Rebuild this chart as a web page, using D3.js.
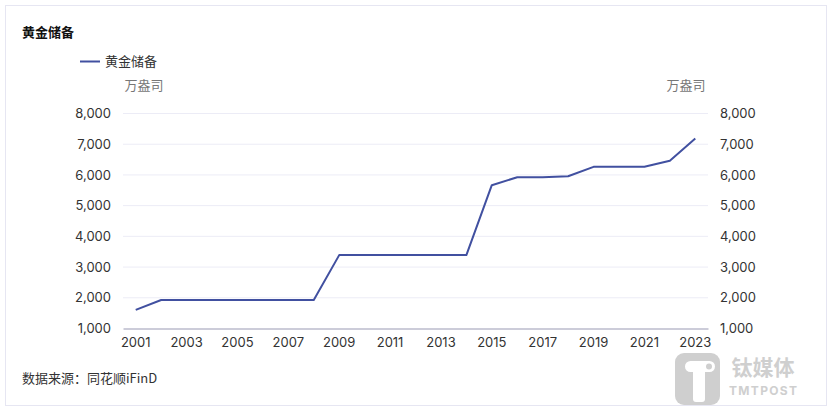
<!DOCTYPE html>
<html><head><meta charset="utf-8">
<script src="https://cdn.jsdelivr.net/npm/d3@7"></script>
<style>
html,body{margin:0;padding:0;background:#fff;}
svg{display:block;font-family:"Noto Sans CJK SC","Inter",sans-serif;}
</style></head>
<body>
<svg id="c" width="832" height="412"></svg>
<script>
const years = ["2001","2002","2003","2004","2005","2006","2007","2008","2009","2010","2011","2012","2013","2014","2015","2016","2017","2018","2019","2020","2021","2022","2023"];
const goldReserve = [1608,1929,1929,1929,1929,1929,1929,1929,3389,3389,3389,3389,3389,3389,5666,5924,5924,5956,6264,6264,6264,6464,7187];
const yTicks = [1000,2000,3000,4000,5000,6000,7000,8000];
const seriesName = "黄金储备";
const unitLabel = "万盎司";
const titleText = "黄金储备";
const sourceText = "数据来源：同花顺iFinD";

const svg = d3.select("#c");
svg.append("rect").attr("x",5.5).attr("y",5.5).attr("width",821).attr("height",400)
  .attr("fill","#fff").attr("stroke","#e6e6f2").attr("stroke-width",1);

const x = d3.scaleBand().domain(years).range([123,708]);
const y = d3.scaleLinear().domain([1000,8000]).range([328.5,113.5]);

svg.append("g").selectAll("line").data(yTicks.slice(1)).join("line")
  .attr("x1",123).attr("x2",708).attr("y1",d=>y(d)).attr("y2",d=>y(d))
  .attr("stroke","#ececf6").attr("stroke-width",1);

const fmt = d3.format(",");
const la = svg.append("g").attr("transform","translate(123,0)")
  .call(d3.axisLeft(y).tickValues(yTicks).tickFormat(fmt).tickSize(0).tickPadding(12));
la.select(".domain").remove();
la.selectAll("text").attr("font-size",13).attr("fill","#333").attr("font-family","Inter,'Noto Sans CJK SC',sans-serif");

const ra = svg.append("g").attr("transform","translate(708,0)")
  .call(d3.axisRight(y).tickValues(yTicks).tickFormat(fmt).tickSize(0).tickPadding(12));
ra.select(".domain").remove();
ra.selectAll("text").attr("font-size",13).attr("fill","#333").attr("font-family","Inter,'Noto Sans CJK SC',sans-serif");

const xa = svg.append("g").attr("transform","translate(0,328.5)")
  .call(d3.axisBottom(x).tickValues(years.filter((d,i)=>i%2===0)).tickSize(0).tickPadding(9));
xa.select(".domain").attr("stroke","#9a9ab4").attr("stroke-width",1.2);
xa.selectAll("text").attr("font-size",13).attr("fill","#333").attr("font-family","Inter,'Noto Sans CJK SC',sans-serif");

const line = d3.line().x((d,i)=>x(years[i])+x.bandwidth()/2).y(d=>y(d));
svg.append("path").datum(goldReserve).attr("d",line)
  .attr("fill","none").attr("stroke","#4150a0").attr("stroke-width",2).attr("stroke-linejoin","round");

svg.append("text").attr("x",22).attr("y",37).text(titleText)
  .attr("font-size",13).attr("font-weight","bold").attr("fill","#111");

svg.append("line").attr("x1",80).attr("x2",100).attr("y1",61.5).attr("y2",61.5)
  .attr("stroke","#4150a0").attr("stroke-width",2);
svg.append("text").attr("x",105).attr("y",66).text(seriesName).attr("font-size",13).attr("fill","#333");

svg.append("text").attr("x",144).attr("y",90).attr("text-anchor","middle").text(unitLabel).attr("font-size",13).attr("fill","#777");
svg.append("text").attr("x",686).attr("y",90).attr("text-anchor","middle").text(unitLabel).attr("font-size",13).attr("fill","#777");

svg.append("text").attr("x",22).attr("y",383).text(sourceText).attr("font-size",13).attr("fill","#333");

const wc = "#cfcfcf";
const wm = svg.append("g");
wm.append("rect").attr("x",675).attr("y",353).attr("width",45).attr("height",52).attr("rx",9).attr("fill",wc);
wm.append("rect").attr("x",685).attr("y",361).attr("width",30).attr("height",11).attr("rx",5.5).attr("fill","#fff");
wm.append("circle").attr("cx",709).attr("cy",366.5).attr("r",3).attr("fill",wc);
wm.append("rect").attr("x",693).attr("y",366).attr("width",12).attr("height",36).attr("rx",3).attr("fill","#fff");
wm.append("text").attr("x",763).attr("y",375).attr("text-anchor","middle").text("钛媒体").attr("font-size",21).attr("font-weight","bold").attr("fill",wc);
wm.append("text").attr("x",763).attr("y",394.5).attr("text-anchor","middle").attr("textLength",68).text("TMTPOST").attr("font-size",12).attr("font-weight","bold").attr("fill",wc).attr("font-family","Inter,sans-serif");
</script>
</body></html>
